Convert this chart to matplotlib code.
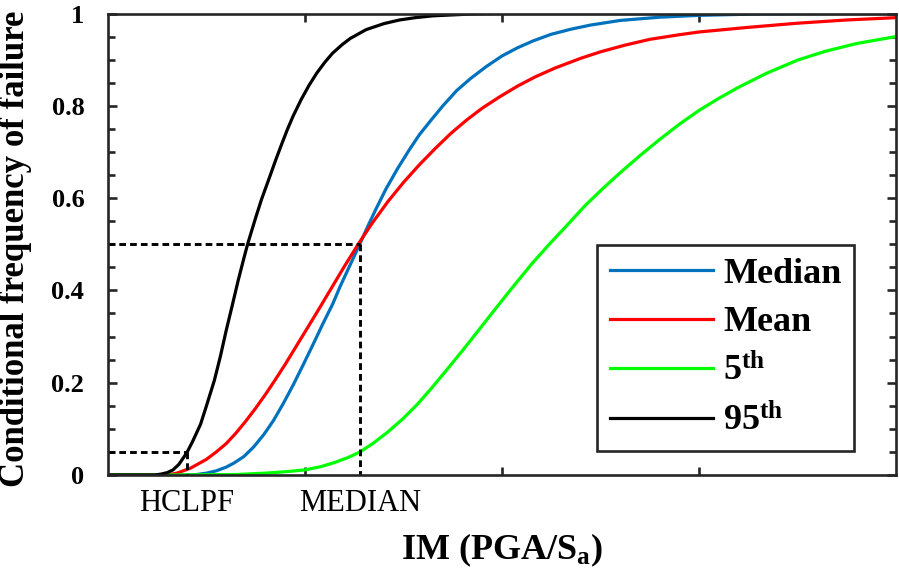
import matplotlib
matplotlib.use("Agg")
import matplotlib.pyplot as plt
from matplotlib.ticker import MultipleLocator

plt.rcParams['font.family'] = ['Liberation Serif', 'DejaVu Serif']
plt.rcParams['mathtext.fontset'] = 'custom'
plt.rcParams['mathtext.rm'] = 'Liberation Serif'
plt.rcParams['mathtext.bf'] = 'Liberation Serif:bold'
plt.rcParams['mathtext.it'] = 'Liberation Serif:italic'

# ---- data ----
median_x = [0.00, 0.40, 0.45, 0.50, 0.55, 0.60, 0.64, 0.69, 0.74, 0.79, 0.84, 0.89, 0.94, 0.99,
            1.04, 1.09, 1.14, 1.18, 1.23, 1.28, 1.32, 1.36, 1.41, 1.47, 1.53, 1.58, 1.64, 1.70,
            1.77, 1.84, 1.92, 2.00, 2.08, 2.16, 2.25, 2.35, 2.45, 2.60, 2.80, 3.00, 3.30, 3.60, 4.00]
median_y = [0.000, 0.000, 0.001, 0.004, 0.009, 0.017, 0.026, 0.040, 0.061, 0.087, 0.118, 0.155, 0.195, 0.238,
            0.282, 0.327, 0.370, 0.410, 0.456, 0.502, 0.540, 0.576, 0.619, 0.664, 0.705, 0.737, 0.769, 0.800,
            0.833, 0.859, 0.885, 0.908, 0.926, 0.941, 0.955, 0.966, 0.975, 0.985, 0.992, 0.996, 0.999, 1.000, 1.000]

mean_x = [0.00, 0.30, 0.35, 0.42, 0.50, 0.55, 0.60, 0.65, 0.70, 0.75, 0.80, 0.85, 0.90, 0.95,
          1.00, 1.06, 1.13, 1.20, 1.27, 1.34, 1.42, 1.50, 1.58, 1.66, 1.74, 1.82, 1.90, 1.99,
          2.08, 2.17, 2.27, 2.40, 2.50, 2.62, 2.75, 2.90, 3.00, 3.25, 3.50, 3.75, 4.00]
mean_y = [0.000, 0.000, 0.004, 0.015, 0.034, 0.050, 0.068, 0.091, 0.117, 0.145, 0.175, 0.207, 0.240, 0.275,
          0.310, 0.352, 0.402, 0.452, 0.500, 0.545, 0.592, 0.634, 0.672, 0.707, 0.740, 0.769, 0.795, 0.820,
          0.843, 0.863, 0.882, 0.903, 0.917, 0.931, 0.944, 0.954, 0.960, 0.970, 0.979, 0.986, 0.991]

p5_x = [0.00, 0.30, 0.50, 0.65, 0.80, 0.90, 1.00, 1.08, 1.15, 1.22, 1.28, 1.35, 1.42, 1.50,
        1.57, 1.64, 1.72, 1.80, 1.88, 1.97, 2.06, 2.15, 2.24, 2.33, 2.42, 2.51, 2.60, 2.70,
        2.80, 2.90, 3.00, 3.10, 3.20, 3.34, 3.50, 3.64, 3.80, 4.00]
p5_y = [0.000, 0.000, 0.0005, 0.001, 0.004, 0.007, 0.011, 0.018, 0.027, 0.038, 0.050, 0.070, 0.093, 0.123,
        0.153, 0.187, 0.228, 0.270, 0.313, 0.362, 0.410, 0.457, 0.500, 0.541, 0.583, 0.620, 0.655, 0.692,
        0.727, 0.760, 0.790, 0.816, 0.840, 0.870, 0.899, 0.918, 0.935, 0.950]

p95_x = [0.00, 0.24, 0.27, 0.30, 0.33, 0.36, 0.40, 0.43, 0.47, 0.50, 0.54, 0.57, 0.60, 0.63,
         0.66, 0.69, 0.71, 0.75, 0.78, 0.82, 0.85, 0.88, 0.91, 0.94, 0.98, 1.02, 1.06, 1.10,
         1.14, 1.19, 1.23, 1.31, 1.40, 1.48, 1.56, 1.65, 1.75, 1.85, 2.00, 4.00]
p95_y = [0.000, 0.000, 0.002, 0.005, 0.011, 0.023, 0.048, 0.073, 0.110, 0.150, 0.205, 0.256, 0.313, 0.366,
         0.420, 0.470, 0.502, 0.558, 0.598, 0.645, 0.681, 0.715, 0.748, 0.778, 0.813, 0.844, 0.871, 0.894,
         0.914, 0.933, 0.946, 0.965, 0.978, 0.986, 0.991, 0.995, 0.997, 0.999, 1.000, 1.000]

series_labels = ['Median', 'Mean', r'$\mathbf{5^{th}}$', r'$\mathbf{95^{th}}$']
series_colors = ['#0072BD', '#FF0000', '#00FF00', '#000000']

hclpf_x = 0.40
hclpf_p = 0.05
median_im = 1.28
median_p = 0.5
marker_names = ['HCLPF', 'MEDIAN']

yticks = [0, 0.2, 0.4, 0.6, 0.8, 1]
ytick_labels = ['0', '0.2', '0.4', '0.6', '0.8', '1']
xticks_major = [1, 2, 3]

# ---- figure ----
fig = plt.figure(figsize=(8.99, 5.70), dpi=100)
ax = fig.add_axes([0.1201, 0.1667, 0.8766, 0.8096])

lw = 2.3
for xs, ys, lab, col in zip([median_x, mean_x, p5_x, p95_x],
                            [median_y, mean_y, p5_y, p95_y],
                            series_labels, series_colors):
    ax.plot(xs, ys, color=col, lw=lw, label=lab, solid_joinstyle='round')

dash_kw = dict(color='black', lw=2.1, dashes=(2.3, 1.4))
ax.plot([0, median_im], [median_p, median_p], **dash_kw)
ax.plot([median_im, median_im], [median_p, 0], **dash_kw)
ax.plot([0, hclpf_x], [hclpf_p, hclpf_p], **dash_kw)
ax.plot([hclpf_x, hclpf_x], [hclpf_p, 0], **dash_kw)

ax.set_xlim(0, 4)
ax.set_ylim(0, 1)

ax.set_xticks(xticks_major)
ax.set_xticklabels([])
ax.set_xticks([hclpf_x, median_im], marker_names, minor=True)
ax.set_yticks(yticks, ytick_labels)
ax.yaxis.set_minor_locator(MultipleLocator(0.05))

spine_col = '#262626'
for s in ax.spines.values():
    s.set_linewidth(1.9)
    s.set_color(spine_col)

ax.tick_params(which='both', direction='in', top=True, right=True, color=spine_col, width=1.9)
ax.tick_params(axis='y', which='major', length=6.5, pad=17, labelsize=19)
ax.tick_params(axis='y', which='minor', length=4.8)
ax.tick_params(axis='x', which='major', length=6)
ax.tick_params(axis='x', which='minor', length=0, pad=10, labelsize=22)
for t in ax.get_yticklabels():
    t.set_fontweight('bold')

ax.set_ylabel('Conditional frequency of failure', fontsize=25, fontweight='bold')
ax.yaxis.set_label_coords(-0.097, 0.49)
ax.set_xlabel(r'IM (PGA/S$_{\mathbf{a}}$)', fontsize=26, fontweight='bold')
ax.xaxis.set_label_coords(0.5, -0.122)

leg = ax.legend(loc='upper left', bbox_to_anchor=(0.6206, 0.4984), borderaxespad=0,
                prop={'weight': 'bold', 'size': 26}, frameon=True, fancybox=False,
                edgecolor=spine_col, framealpha=1, handlelength=2.85, handletextpad=0.3,
                borderpad=0.35, labelspacing=0.42)
leg.get_frame().set_linewidth(1.9)

fig.savefig('out.png', dpi=100)
